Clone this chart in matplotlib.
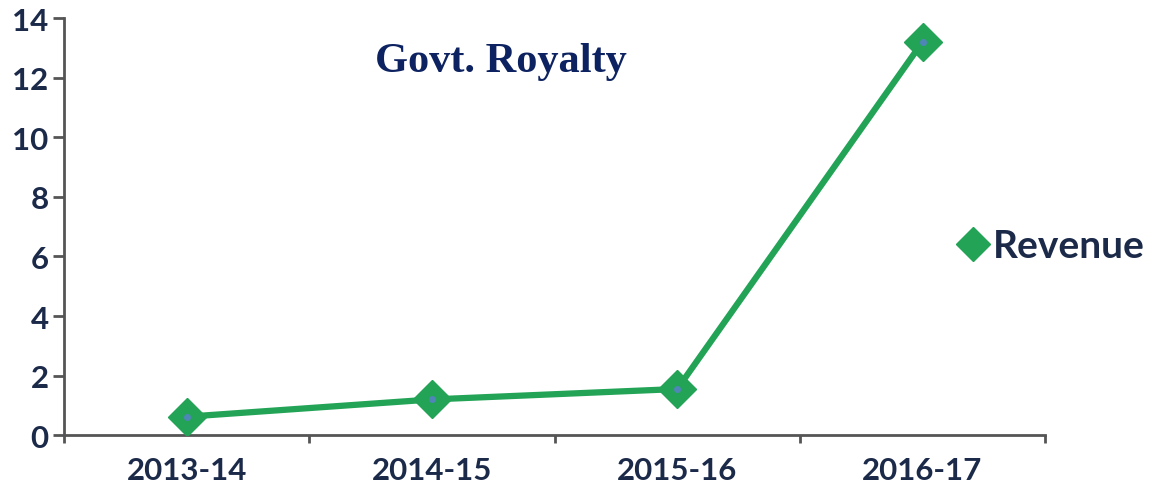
import matplotlib.pyplot as plt
from matplotlib.lines import Line2D

years = ['2013-14', '2014-15', '2015-16', '2016-17']
revenue = [0.62, 1.2, 1.55, 13.2]
yticks = [0, 2, 4, 6, 8, 10, 12, 14]

green = '#22a356'
navy = '#1c2a4a'

fig = plt.figure(figsize=(11.53, 4.89), dpi=100)
ax = fig.add_axes([0.0555, 0.108, 0.851, 0.853])

x = list(range(len(years)))
ax.plot(x, revenue, color=green, lw=4.5, marker='D', markersize=19,
        markerfacecolor=green, markeredgecolor=green, zorder=3)
ax.plot(x, revenue, ls='none', marker='o', markersize=4, color='#4f86b8', zorder=4)

ax.set_xlim(-0.5, 3.5)
ax.set_ylim(0, 14)
ax.set_yticks(yticks)
ax.set_yticklabels([str(v) for v in yticks])
ax.set_xticks(x)
ax.set_xticklabels(years)
ax.set_xticks([-0.5, 0.5, 1.5, 2.5, 3.5], minor=True)
ax.tick_params(axis='x', which='major', length=0, pad=15)
ax.tick_params(axis='x', which='minor', length=6, width=2, color='#555555', direction='out')
ax.tick_params(axis='y', length=8, width=2, color='#555555', pad=3)

for lab in ax.get_xticklabels() + ax.get_yticklabels():
    lab.set_fontfamily('Lato')
    lab.set_fontweight('bold')
    lab.set_fontsize(22.5)
    lab.set_color(navy)

for s in ['top', 'right']:
    ax.spines[s].set_visible(False)
for s in ['left', 'bottom']:
    ax.spines[s].set_color('#555555')
    ax.spines[s].set_linewidth(2)

ax.text(0.434, 0.873, 'Govt. Royalty', transform=fig.transFigure, ha='center', va='center',
        fontfamily='Liberation Serif', fontweight='bold', fontsize=30.5, color='#0d2260')

handle = Line2D([], [], ls='none', marker='D', markersize=17, color=green)
ax.legend([handle], ['Revenue'], loc='center left', bbox_to_anchor=(0.829, 0.495),
          bbox_transform=fig.transFigure, frameon=False, handletextpad=0.05,
          handlelength=0.9, borderaxespad=0, borderpad=0,
          prop={'family': 'Lato', 'weight': 'bold', 'size': 28})
for t in ax.get_legend().get_texts():
    t.set_color(navy)

fig.savefig('out.png', dpi=100)
